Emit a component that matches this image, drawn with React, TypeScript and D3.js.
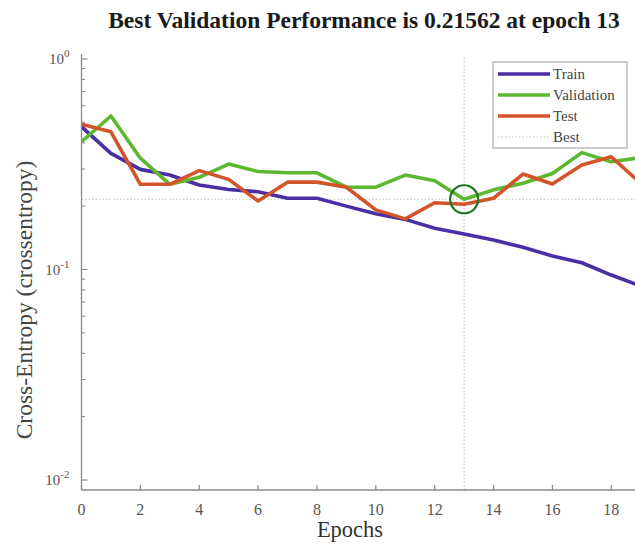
import React from "react";
import * as d3 from "d3";

const epochs = [0,1,2,3,4,5,6,7,8,9,10,11,12,13,14,15,16,17,18,19];
const trainLoss = [0.477,0.356,0.299,0.281,0.252,0.240,0.234,0.218,0.218,0.200,0.184,0.173,0.157,0.1475,0.138,0.1275,0.116,0.1077,0.0941,0.0835];
const validationLoss = [0.405,0.536,0.338,0.254,0.274,0.317,0.292,0.288,0.288,0.246,0.246,0.281,0.264,0.21562,0.239,0.257,0.286,0.359,0.325,0.340];
const testLoss = [0.490,0.451,0.254,0.254,0.295,0.268,0.2115,0.260,0.260,0.246,0.192,0.174,0.2075,0.204,0.218,0.284,0.255,0.3136,0.343,0.257];
const xTicks = [0,2,4,6,8,10,12,14,16,18];
const yMajor = [1,0.1,0.01];
const bestEpoch = 13;
const bestValue = 0.21562;
const seriesNames = ["Train","Validation","Test","Best"];
const seriesColors = ["#4a2ea4","#5cb82e","#d4542a"];

export default function App() {
  const W = 635, H = 545;
  const x = d3.scaleLinear().domain([0, 19]).range([81.5, 640.7]);
  const y = d3.scaleLog().domain([1, 0.01]).range([59, 480]);
  const yTop = 54, yBot = 490, xLeft = 81.5, xRight = 640;
  const line = d3.line<number>().x((_, i) => x(epochs[i])).y(d => y(d));
  const minor: number[] = [];
  for (const dec of [0.01, 0.1]) for (let k = 2; k <= 9; k++) minor.push(dec * k);
  const serif = "'Liberation Serif', 'Times New Roman', serif";
  const axisColor = "#8a8a8a";
  const series = [trainLoss, validationLoss, testLoss];
  return (
    <svg width={W} height={H} style={{ position: "absolute", left: 0, top: 0, background: "#fff" }} fontFamily={serif}>
      <defs>
        <clipPath id="plot"><rect x={xLeft} y={yTop} width={xRight - xLeft} height={yBot - yTop} /></clipPath>
      </defs>
      <text x={364} y={28} textAnchor="middle" fontWeight="bold" fontSize={23.5} fill="#1a1a1a">
        Best Validation Performance is 0.21562 at epoch 13
      </text>
      {/* best lines */}
      <line x1={x(bestEpoch)} x2={x(bestEpoch)} y1={yTop + 4} y2={yBot} stroke="#b5c9b0" strokeWidth={1.2} strokeDasharray="1.5 2" />
      <line x1={xLeft} x2={xRight} y1={y(bestValue)} y2={y(bestValue)} stroke="#b5c9b0" strokeWidth={1.2} strokeDasharray="1.5 2" />
      <g clipPath="url(#plot)">
        {series.map((s, i) => (
          <path key={i} d={line(s) || ""} fill="none" stroke={seriesColors[i]} strokeWidth={3.6} strokeLinejoin="round" />
        ))}
        <circle cx={x(bestEpoch)} cy={y(bestValue)} r={14} fill="none" stroke="#1d7a22" strokeWidth={2.2} />
      </g>
      {/* axes */}
      <line x1={xLeft} x2={xLeft} y1={yTop} y2={yBot} stroke={axisColor} strokeWidth={1.3} />
      <line x1={xLeft} x2={xRight} y1={yBot} y2={yBot} stroke={axisColor} strokeWidth={1.3} />
      {xTicks.map(t => (
        <g key={t}>
          <line x1={x(t)} x2={x(t)} y1={yBot} y2={yBot - 5} stroke={axisColor} strokeWidth={1.2} />
          <text x={x(t)} y={515} textAnchor="middle" fontSize={16} fill="#555">{t}</text>
        </g>
      ))}
      {minor.map((m, i) => (
        <line key={i} x1={xLeft} x2={xLeft + 3.5} y1={y(m)} y2={y(m)} stroke={axisColor} strokeWidth={1.1} />
      ))}
      {yMajor.map(t => (
        <g key={t}>
          <line x1={xLeft} x2={xLeft + 6} y1={y(t)} y2={y(t)} stroke={axisColor} strokeWidth={1.2} />
          <text x={xLeft - 12} y={y(t) + 5} textAnchor="end" fontSize={15} fill="#555">
            10<tspan dy={-7} fontSize={11}>{Math.round(Math.log10(t))}</tspan>
          </text>
        </g>
      ))}
      <text transform={`translate(32, 300) rotate(-90)`} textAnchor="middle" fontSize={23.5} fill="#444">
        Cross-Entropy  (crossentropy)
      </text>
      <text x={350} y={537} textAnchor="middle" fontSize={22.5} fill="#333">Epochs</text>
      {/* legend */}
      <g>
        <rect x={493} y={62} width={134} height={86} fill="#fff" stroke="#999" strokeWidth={1} />
        {seriesNames.map((n, i) => {
          const ly = 74 + i * 21;
          return (
            <g key={n}>
              {i < 3 ? (
                <line x1={498} x2={550} y1={ly} y2={ly} stroke={seriesColors[i]} strokeWidth={3.6} />
              ) : (
                <line x1={498} x2={550} y1={ly} y2={ly} stroke="#b5c9b0" strokeWidth={1.2} strokeDasharray="1.5 2" />
              )}
              <text x={553} y={ly + 5} fontSize={15} fill="#444">{n}</text>
            </g>
          );
        })}
      </g>
    </svg>
  );
}
